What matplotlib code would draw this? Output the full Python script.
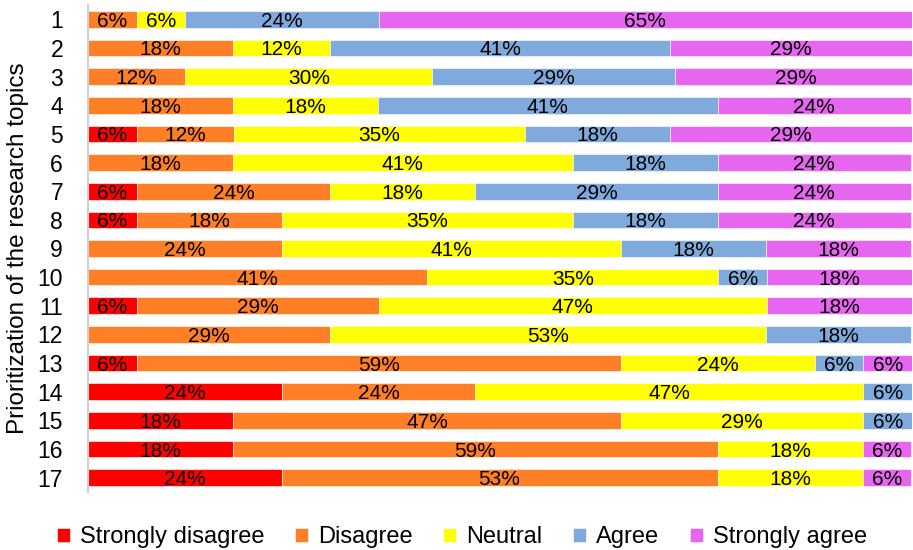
import matplotlib
matplotlib.use("Agg")
import matplotlib.pyplot as plt
import numpy as np

plt.rcParams['font.family'] = ['Liberation Sans', 'DejaVu Sans']

topics = [str(i) for i in range(1, 18)]
categories = ["Strongly disagree", "Disagree", "Neutral", "Agree", "Strongly agree"]
colors = ["#FF0000", "#FF7F27", "#FFFF00", "#80AADC", "#E666F0"]

strongly_disagree = [0, 0, 0, 0, 5.9, 0, 5.9, 5.9, 0, 0, 5.9, 0, 5.9, 23.5, 17.6, 17.6, 23.5]
disagree = [5.9, 17.6, 11.8, 17.6, 11.8, 17.6, 23.5, 17.6, 23.5, 41.2, 29.4, 29.4, 58.8, 23.5, 47.1, 58.8, 52.9]
neutral = [5.9, 11.8, 30.0, 17.6, 35.3, 41.2, 17.6, 35.3, 41.2, 35.3, 47.1, 52.9, 23.5, 47.1, 29.4, 17.6, 17.6]
agree = [23.5, 41.2, 29.4, 41.2, 17.6, 17.6, 29.4, 17.6, 17.6, 5.9, 0, 17.6, 5.9, 5.9, 5.9, 0, 0]
strongly_agree = [64.7, 29.4, 29.4, 23.5, 29.4, 23.5, 23.5, 23.5, 17.6, 17.6, 17.6, 0, 5.9, 0, 0, 5.9, 5.9]

series = [strongly_disagree, disagree, neutral, agree, strongly_agree]

fig = plt.figure(figsize=(9.13, 5.5), dpi=100)
ax = fig.add_axes([88/913, 1 - 492/550, 824/913, (492 - 5)/550])

y = np.arange(len(topics))
left = np.zeros(len(topics))
for name, vals, col in zip(categories, series, colors):
    vals = np.array(vals, dtype=float)
    ax.barh(y, vals, left=left, height=0.58, color=col, label=name,
            edgecolor='white', linewidth=0.4)
    for yi, (l, v) in enumerate(zip(left, vals)):
        if v > 0:
            ax.text(l + v / 2, yi + 0.07, f"{v:.0f}%", ha='center', va='center',
                    fontsize=15, color='black')
    left += vals

ax.set_xlim(0, 100)
ax.set_ylim(len(topics) - 0.5, -0.5)
ax.set_yticks(y)
ax.set_yticklabels(topics, fontsize=16.5)
ax.tick_params(axis='y', length=0, pad=18)
ax.set_xticks([])
for s in ['top', 'right', 'bottom']:
    ax.spines[s].set_visible(False)
ax.spines['left'].set_color('#D0D0D0')
ax.spines['left'].set_linewidth(1.5)
ax.set_ylabel("Prioritization of the research topics", fontsize=17.5, labelpad=6)

handles, labels = ax.get_legend_handles_labels()
fig.legend(handles, labels, loc='center', bbox_to_anchor=(462/913, 1 - 537/550),
           ncol=5, frameon=False, fontsize=17, handlelength=0.55, handleheight=0.55,
           handletextpad=0.42, columnspacing=1.3)

fig.savefig("out.png", dpi=100)
